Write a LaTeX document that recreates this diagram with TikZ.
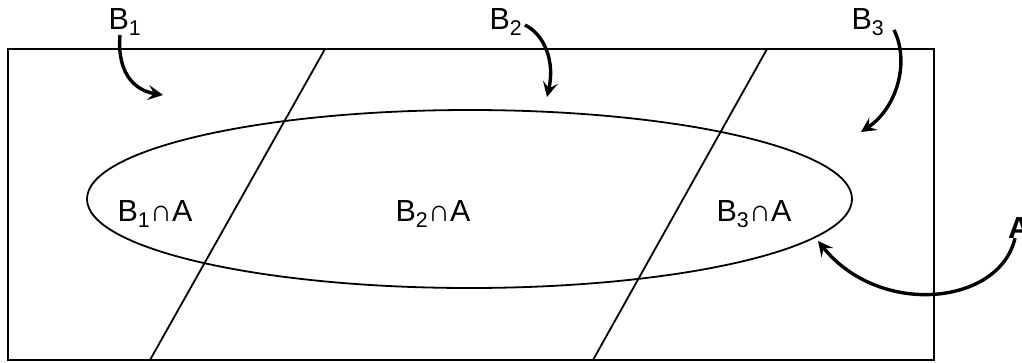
\documentclass[tikz,border=0pt]{standalone}
\usepackage{fontspec}
\setmainfont{Liberation Sans}
\usetikzlibrary{arrows.meta}
\tikzset{
  thin line/.style={line width=1.8pt},
  lbl/.style={inner sep=0pt, font=\fontsize{30.5}{33}\selectfont},
  curvearrow/.style={line width=3.4pt, -{Stealth[length=15pt,width=15pt,inset=6pt]}}
}
\newcommand{\sub}[1]{\textsubscript{#1}}
\begin{document}
\begin{tikzpicture}[x=1pt,y=-1pt]
\useasboundingbox (0,0) rectangle (1022,362);
\clip (0,0) rectangle (1022,362);
% frame
\draw[thin line] (8,49) rectangle (934,360);
% slanted lines
\coordinate (l1t) at (325,49); \coordinate (l1b) at (150,360);
\coordinate (l2t) at (767,49); \coordinate (l2b) at (593,360);
\draw[thin line] (l1t) -- (l1b);
\draw[thin line] (l2t) -- (l2b);
% ellipse A
\draw[thin line] (469.5,199) ellipse [x radius=382.5, y radius=89];
% labels
\node[lbl] (b1) at (125,22) {B\sub{1}};
\node[lbl] (b2) at (506,22) {B\sub{2}};
\node[lbl] (b3) at (868,22) {B\sub{3}};
\node[lbl,font=\fontsize{30.5}{33}\selectfont\bfseries,anchor=west] (a) at (1008,228) {A};
\node[lbl] (b1a) at (155,214) {B\sub{1}∩A};
\node[lbl] (b2a) at (433,214) {B\sub{2}∩A};
\node[lbl] (b3a) at (754,214) {B\sub{3}∩A};
% arrow endpoints
\coordinate (s1) at (120,35);  \coordinate (t1) at (163,95);
\coordinate (s2) at (525,25);  \coordinate (t2) at (547,97);
\coordinate (s3) at (894,30);  \coordinate (t3) at (861,132);
\coordinate (sa) at (1015,238); \coordinate (ta) at (818,241);
\draw[curvearrow] (s1) .. controls (117,70) and (132,90) .. (t1);
\draw[curvearrow] (s2) .. controls (545,35) and (555,62) .. (t2);
\draw[curvearrow] (s3) .. controls (910,62) and (897,108) .. (t3);
\draw[curvearrow] (sa) .. controls (1000,305) and (880,318) .. (ta);
\end{tikzpicture}
\end{document}
